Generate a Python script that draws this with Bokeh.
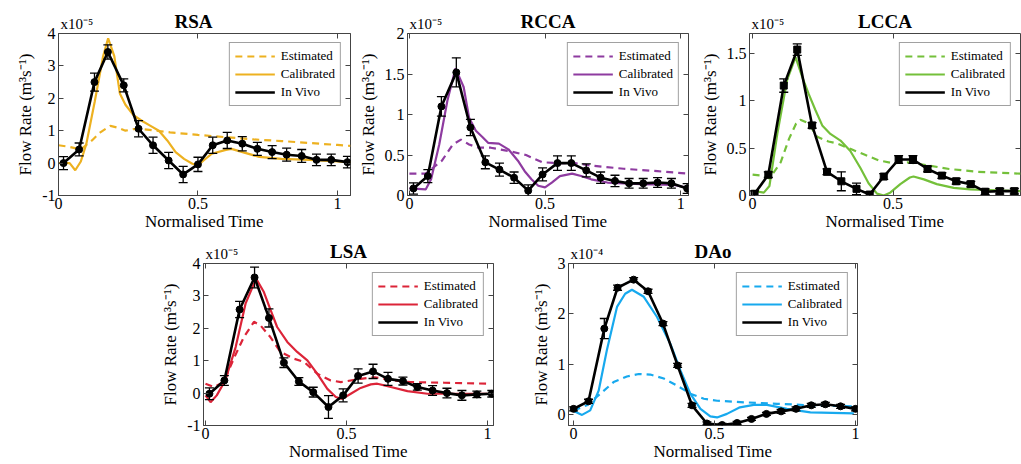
from bokeh.plotting import figure
from bokeh.models import (Range1d, FixedTicker, PrintfTickFormatter, Legend, LegendItem,
                          Whisker, TeeHead, ColumnDataSource, Label, LinearAxis, Spacer)
from bokeh.layouts import row, column
from bokeh.embed import file_html
from bokeh.resources import INLINE

FONT = "Liberation Serif"

# ---------------- RSA (x1e-5) ----------------
rsa_t_vivo = [0.018, 0.074, 0.129, 0.177, 0.234, 0.287, 0.339, 0.395, 0.447, 0.500,
              0.553, 0.605, 0.659, 0.713, 0.766, 0.818, 0.872, 0.925, 0.978, 1.036]
rsa_vivo = [0.0, 0.42, 2.5, 3.43, 2.4, 1.06, 0.55, 0.08, -0.35, -0.04,
            0.55, 0.70, 0.60, 0.44, 0.34, 0.26, 0.22, 0.10, 0.10, 0.03]
rsa_err = [0.2, 0.2, 0.28, 0.22, 0.2, 0.25, 0.25, 0.25, 0.25, 0.22,
           0.25, 0.25, 0.22, 0.2, 0.2, 0.2, 0.2, 0.18, 0.18, 0.18]
rsa_t_est = [0.0, 0.04, 0.08, 0.12, 0.15, 0.186, 0.21, 0.24, 0.27, 0.30, 0.35, 0.40,
             0.50, 0.60, 0.70, 0.80, 0.90, 1.00, 1.047]
rsa_est = [0.55, 0.5, 0.42, 0.7, 0.95, 1.15, 1.1, 1.0, 1.05, 1.05, 1.0, 0.95,
           0.87, 0.8, 0.73, 0.68, 0.62, 0.56, 0.53]
rsa_t_cal = [0.0, 0.04, 0.06, 0.08, 0.10, 0.13, 0.16, 0.178, 0.20, 0.22, 0.24, 0.27,
             0.30, 0.33, 0.36, 0.39, 0.42, 0.45, 0.48, 0.50, 0.52, 0.55, 0.60, 0.62,
             0.66, 0.72, 0.80, 0.90, 1.00, 1.047]
rsa_cal = [0.0, 0.0, -0.22, 0.05, 0.6, 1.9, 3.3, 3.85, 3.3, 2.15, 1.8, 1.47,
           1.3, 1.15, 1.0, 0.7, 0.34, 0.13, -0.02, -0.07, 0.08, 0.29, 0.41, 0.44,
           0.34, 0.19, 0.13, 0.10, 0.05, 0.02]

# ---------------- RCCA (x1e-5) ----------------
rcca_t_vivo = [0.015, 0.068, 0.118, 0.173, 0.225, 0.280, 0.332, 0.386, 0.438, 0.491,
               0.546, 0.597, 0.652, 0.705, 0.758, 0.810, 0.862, 0.915, 0.966, 1.024]
rcca_vivo = [0.087, 0.24, 1.10, 1.52, 0.84, 0.41, 0.32, 0.22, 0.06, 0.26,
             0.40, 0.40, 0.31, 0.22, 0.18, 0.15, 0.15, 0.16, 0.15, 0.087]
rcca_err = [0.07, 0.08, 0.12, 0.18, 0.1, 0.08, 0.08, 0.07, 0.07, 0.08,
            0.09, 0.09, 0.08, 0.07, 0.07, 0.06, 0.06, 0.06, 0.06, 0.06]
rcca_t_est = [0.0, 0.06, 0.12, 0.16, 0.19, 0.22, 0.255, 0.30, 0.365, 0.43, 0.49,
              0.55, 0.61, 0.67, 0.79, 0.915, 1.029]
rcca_est = [0.27, 0.27, 0.43, 0.63, 0.69, 0.63, 0.59, 0.59, 0.55, 0.50, 0.41,
            0.40, 0.40, 0.37, 0.33, 0.30, 0.27]
rcca_t_cal = [0.0, 0.06, 0.08, 0.11, 0.14, 0.17, 0.20, 0.22, 0.245, 0.27, 0.29, 0.33,
              0.365, 0.40, 0.425, 0.45, 0.475, 0.50, 0.525, 0.555, 0.60, 0.633, 0.67,
              0.73, 0.855, 0.975, 1.029]
rcca_cal = [0.087, 0.075, 0.2, 0.63, 1.17, 1.57, 1.34, 0.96, 0.80, 0.72, 0.65, 0.64,
            0.57, 0.43, 0.30, 0.20, 0.12, 0.10, 0.16, 0.24, 0.27, 0.24, 0.20,
            0.16, 0.14, 0.13, 0.095]

# ---------------- LCCA (x1e-5) ----------------
lcca_t_vivo = [0.007, 0.056, 0.111, 0.159, 0.212, 0.265, 0.316, 0.370, 0.417, 0.467,
               0.520, 0.571, 0.623, 0.674, 0.725, 0.777, 0.828, 0.880, 0.932]
lcca_vivo = [0.018, 0.22, 1.16, 1.54, 0.74, 0.25, 0.15, 0.07, 0.01, 0.20,
             0.38, 0.38, 0.28, 0.21, 0.15, 0.12, 0.04, 0.046, 0.046]
lcca_err = [0.03, 0.03, 0.07, 0.06, 0.03, 0.03, 0.1, 0.06, 0.03, 0.03,
            0.04, 0.04, 0.03, 0.03, 0.03, 0.03, 0.03, 0.03, 0.03]
lcca_t_est = [0.0, 0.03, 0.06, 0.10, 0.13, 0.155, 0.17, 0.20, 0.23, 0.27, 0.30, 0.35,
              0.40, 0.45, 0.50, 0.55, 0.60, 0.70, 0.80, 0.954]
lcca_est = [0.22, 0.21, 0.18, 0.35, 0.60, 0.76, 0.80, 0.76, 0.62, 0.57, 0.55, 0.49,
            0.43, 0.37, 0.34, 0.35, 0.33, 0.28, 0.25, 0.23]
lcca_t_cal = [0.0, 0.04, 0.06, 0.088, 0.123, 0.153, 0.177, 0.20, 0.224, 0.248, 0.277,
              0.313, 0.348, 0.384, 0.413, 0.443, 0.467, 0.49, 0.526, 0.56, 0.573,
              0.61, 0.656, 0.716, 0.775, 0.87, 0.954]
lcca_cal = [0.05, 0.03, 0.1, 0.65, 1.22, 1.46, 1.25, 1.07, 0.90, 0.74, 0.65,
            0.58, 0.47, 0.29, 0.13, 0.02, 0.0, 0.03, 0.12, 0.19, 0.20,
            0.17, 0.12, 0.08, 0.065, 0.055, 0.046]

# ---------------- LSA (x1e-5) ----------------
lsa_t_vivo = [0.014, 0.067, 0.121, 0.174, 0.225, 0.278, 0.331, 0.382, 0.436, 0.488,
              0.541, 0.594, 0.647, 0.700, 0.751, 0.805, 0.856, 0.909, 0.962, 1.015]
lsa_vivo = [-0.02, 0.39, 2.58, 3.57, 2.32, 0.94, 0.36, 0.03, -0.43, -0.07,
            0.53, 0.67, 0.44, 0.37, 0.19, 0.08, 0.0, -0.07, -0.04, -0.02]
lsa_err = [0.18, 0.15, 0.25, 0.32, 0.28, 0.15, 0.12, 0.15, 0.35, 0.2,
           0.22, 0.22, 0.2, 0.12, 0.1, 0.15, 0.15, 0.15, 0.1, 0.1]
lsa_t_est = [0.0, 0.03, 0.065, 0.10, 0.136, 0.172, 0.195, 0.23, 0.266, 0.314, 0.35,
             0.396, 0.444, 0.48, 0.55, 0.60, 0.669, 0.728, 0.846, 1.0]
lsa_est = [0.29, 0.19, 0.34, 1.06, 1.73, 2.2, 2.09, 1.73, 1.27, 1.06, 0.96,
           0.6, 0.39, 0.34, 0.44, 0.49, 0.39, 0.34, 0.32, 0.29]
lsa_t_cal = [0.0, 0.018, 0.04, 0.07, 0.107, 0.142, 0.172, 0.183, 0.207, 0.231, 0.254,
             0.29, 0.325, 0.361, 0.396, 0.432, 0.462, 0.485, 0.515, 0.55, 0.586,
             0.609, 0.657, 0.716, 0.787, 0.905, 1.0]
lsa_cal = [-0.07, -0.28, -0.07, 0.39, 1.42, 2.76, 3.38, 3.48, 3.12, 2.56, 2.04,
           1.58, 1.27, 1.01, 0.6, 0.13, -0.12, -0.18, -0.02, 0.16, 0.27,
           0.29, 0.19, 0.06, -0.02, -0.02, -0.02]

# ---------------- DAo (x1e-4) ----------------
dao_t_vivo = [0.0, 0.053, 0.109, 0.156, 0.213, 0.264, 0.317, 0.369, 0.420, 0.473,
              0.527, 0.580, 0.631, 0.684, 0.736, 0.789, 0.843, 0.893, 0.947, 1.0]
dao_vivo = [0.12, 0.27, 1.71, 2.52, 2.68, 2.45, 1.81, 0.98, 0.19, -0.17,
            -0.20, -0.16, -0.08, 0.02, 0.07, 0.12, 0.19, 0.21, 0.17, 0.12]
dao_err = [0.04, 0.04, 0.2, 0.05, 0.04, 0.04, 0.04, 0.04, 0.04, 0.03,
           0.03, 0.03, 0.03, 0.03, 0.04, 0.04, 0.04, 0.04, 0.04, 0.04]
dao_t_est = [0.0, 0.047, 0.095, 0.142, 0.189, 0.231, 0.272, 0.32, 0.367, 0.414,
             0.462, 0.509, 0.604, 0.722, 0.84, 0.994]
dao_est = [0.09, 0.19, 0.42, 0.65, 0.76, 0.81, 0.80, 0.72, 0.58, 0.42,
           0.32, 0.28, 0.25, 0.22, 0.19, 0.17]
dao_t_cal = [-0.005, 0.03, 0.059, 0.089, 0.118, 0.154, 0.183, 0.207, 0.249, 0.296,
             0.343, 0.379, 0.414, 0.45, 0.485, 0.509, 0.544, 0.59, 0.639, 0.686,
             0.757, 0.84, 0.994]
dao_cal = [0.09, 0.0, 0.09, 0.48, 1.28, 2.14, 2.40, 2.48, 2.34, 1.94,
           1.41, 0.88, 0.42, 0.12, -0.03, -0.05, 0.02, 0.15, 0.20, 0.20,
           0.12, 0.05, 0.03]

x_ticks = [0, 0.5, 1]
AX = "#444444"
OVERLAP = 8


def style_axis(ax, ticks, show_labels=True):
    ax.ticker = FixedTicker(ticks=ticks)
    ax.major_tick_in = 5
    ax.major_tick_out = 0
    ax.minor_tick_line_color = None
    ax.axis_line_color = AX
    ax.major_tick_line_color = AX
    ax.major_label_text_font = FONT
    ax.major_label_text_color = "black"
    ax.axis_label_text_font = FONT
    ax.axis_label_text_font_size = "17px"
    ax.axis_label_text_font_style = "normal"
    ax.axis_label_text_color = "black"
    if show_labels:
        ax.major_label_text_font_size = "16px"
        ax.formatter = PrintfTickFormatter(format="%g")
    else:
        ax.major_label_text_font_size = "0px"
        ax.major_label_overrides = {t: "" for t in ticks}
        ax.major_label_standoff = 0
        ax.axis_line_color = None


def panel(title, exp_text, color, xr, yr, yticks, t_vivo, vivo, err, t_est, est,
          t_cal, cal, marker, bl, fw, br, head_h, box_h, bb, title_dx=0):
    W = bl + fw + br
    bt = 2 + OVERLAP
    p = figure(width=W, height=bt + box_h + bb,
               x_range=Range1d(*xr), y_range=Range1d(*yr),
               output_backend="svg", toolbar_location=None,
               min_border_left=bl, min_border_right=br,
               min_border_top=bt, min_border_bottom=bb,
               background_fill_color="white", border_fill_color=None,
               margin=(-OVERLAP, 0, 0, 0))
    p.grid.visible = False
    p.outline_line_color = AX
    p.outline_line_width = 1
    style_axis(p.xaxis[0], x_ticks)
    style_axis(p.yaxis[0], yticks)
    p.xaxis[0].axis_label = "Normalised Time"
    p.yaxis[0].axis_label = "Flow Rate (m³s⁻¹)"
    p.xaxis[0].major_label_standoff = 2
    p.yaxis[0].major_label_standoff = 3
    p.xaxis[0].axis_label_standoff = 0
    p.yaxis[0].axis_label_standoff = 4
    ra = LinearAxis()
    p.add_layout(ra, "right")
    style_axis(ra, yticks, show_labels=False)
    ta = LinearAxis()
    p.add_layout(ta, "above")
    style_axis(ta, x_ticks, show_labels=False)

    r_est = p.line(t_est, est, line_color=color, line_width=2.2, line_dash="7 5")
    r_cal = p.line(t_cal, cal, line_color=color, line_width=2.2)
    src = ColumnDataSource(dict(base=t_vivo,
                                lower=[v - e for v, e in zip(vivo, err)],
                                upper=[v + e for v, e in zip(vivo, err)]))
    wh = Whisker(base="base", lower="lower", upper="upper", source=src,
                 line_color="black", line_width=1.3, level="overlay",
                 upper_head=TeeHead(size=9, line_color="black", line_width=1.3),
                 lower_head=TeeHead(size=9, line_color="black", line_width=1.3))
    p.add_layout(wh)
    r_viv = p.line(t_vivo, vivo, line_color="black", line_width=2.6)
    p.scatter(t_vivo, vivo, marker=marker, size=7, color="black")

    leg = Legend(items=[LegendItem(label="Estimated", renderers=[r_est]),
                        LegendItem(label="Calibrated", renderers=[r_cal]),
                        LegendItem(label="In Vivo", renderers=[r_viv])],
                 location="top_right", label_text_font=FONT,
                 label_text_font_size="13px", label_text_color="black",
                 glyph_width=40, glyph_height=16, label_height=16,
                 spacing=2, padding=5, margin=9, label_standoff=6,
                 border_line_color=AX, border_line_width=1,
                 background_fill_alpha=1.0)
    p.add_layout(leg)

    # header strip (frame aligned with the plot frame) carrying title and exponent;
    # the plot below overlaps its last OVERLAP pixels with a transparent border
    h = figure(width=W, height=head_h, x_range=p.x_range,
               y_range=Range1d(0, head_h),
               x_axis_type=None, y_axis_type=None,
               min_border_left=bl, min_border_right=br,
               min_border_top=0, min_border_bottom=0,
               output_backend="svg", toolbar_location=None,
               outline_line_color=None, background_fill_color="white",
               border_fill_color="white")
    h.grid.visible = False
    h.add_layout(Label(x=xr[0], y=0, x_offset=2, text=exp_text,
                       text_baseline="bottom", text_font=FONT,
                       text_font_size="15px", text_color="black"))
    h.add_layout(Label(x=(xr[0] + xr[1]) / 2, y=0, x_offset=title_dx, text=title,
                       text_align="center", text_baseline="bottom", text_font=FONT,
                       text_font_size="19px", text_font_style="bold",
                       text_color="black"))
    return column(h, p)


c1 = panel("RSA", "x10⁻⁵", "#EDB120", (0, 1.047), (-1, 4), [-1, 0, 1, 2, 3, 4],
           rsa_t_vivo, rsa_vivo, rsa_err, rsa_t_est, rsa_est, rsa_t_cal, rsa_cal,
           "circle", 58, 292, 5, 31, 162, 40, title_dx=-11)
c2 = panel("RCCA", "x10⁻⁵", "#8E3BA0", (-0.007, 1.029), (0, 2), [0, 0.5, 1, 1.5, 2],
           rcca_t_vivo, rcca_vivo, rcca_err, rcca_t_est, rcca_est, rcca_t_cal, rcca_cal,
           "circle", 50, 283, 5, 31, 162, 40)
c3 = panel("LCCA", "x10⁻⁵", "#74C03A", (-0.011, 0.954), (0, 1.71), [0, 0.5, 1, 1.5],
           lcca_t_vivo, lcca_vivo, lcca_err, lcca_t_est, lcca_est, lcca_t_cal, lcca_cal,
           "square", 56, 271, 1, 31, 162, 40)
c4 = panel("LSA", "x10⁻⁵", "#DC2438", (-0.007, 1.021), (-1, 4), [-1, 0, 1, 2, 3, 4],
           lsa_t_vivo, lsa_vivo, lsa_err, lsa_t_est, lsa_est, lsa_t_cal, lsa_cal,
           "circle", 50, 290, 25, 26, 162, 38)
c5 = panel("DAo", "x10⁻⁴", "#17A9EE", (-0.018, 1.007), (-0.21, 3), [0, 1, 2, 3],
           dao_t_vivo, dao_vivo, dao_err, dao_t_est, dao_est, dao_t_cal, dao_cal,
           "circle", 50, 289, 6, 26, 162, 38)

layout = column(row(c1, c2, c3), row(Spacer(width=153, height=10), c4, c5))

open("out.html", "w").write(file_html(layout, INLINE))
